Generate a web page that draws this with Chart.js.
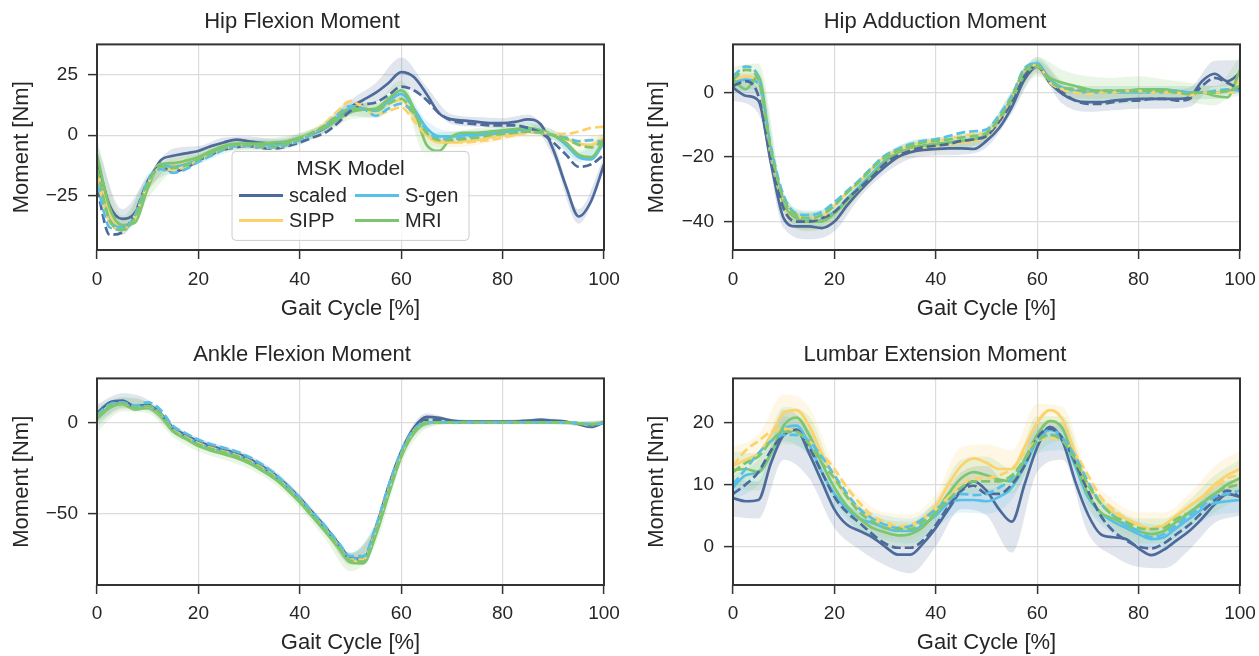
<!DOCTYPE html>
<html>
<head>
<meta charset="utf-8">
<script src="https://cdn.jsdelivr.net/npm/chart.js@4.4.1/dist/chart.umd.min.js"></script>
<style>
  body { margin: 0; background: #fff; width: 1259px; height: 656px; position: relative; overflow: hidden; }
  .panel { position: absolute; }
</style>
</head>
<body>
<div class="panel" style="left:0;top:0;width:620px;height:328px"><canvas id="hipFlex"></canvas></div>
<div class="panel" style="left:630px;top:0;width:629px;height:328px"><canvas id="hipAdd"></canvas></div>
<div class="panel" style="left:0;top:328px;width:620px;height:328px"><canvas id="ankle"></canvas></div>
<div class="panel" style="left:630px;top:328px;width:629px;height:328px"><canvas id="lumbar"></canvas></div>
<script>
// gait cycle samples (%)
const gait = [0,2.5,5,7.5,10,12.5,15,17.5,20,22.5,25,27.5,30,32.5,35,37.5,40,42.5,45,47.5,50,
  52.5,55,57.5,60,62.5,65,67.5,70,72.5,75,77.5,80,82.5,85,87.5,90,92.5,95,97.5,100];
// x positions of the spread (sd) values
const bandX = [0,5,10,15,20,25,30,35,40,45,50,55,60,65,70,75,80,85,90,95,100];
const models = ['scaled', 'SIPP', 'S-gen', 'MRI'];

// Hip flexion moment [Nm]
const hipFlexScaled = [-10,-29,-34.5,-32,-20,-10.5,-8.5,-7.5,-6.5,-4.5,-3,-1.8,-2.5,-3.2,-3.5,-2.8,-1.5,0.5,3,7,11.5,14.5,17.5,21.5,26,24,17,9,6.5,6,5.5,5,5,5.5,6.5,4.5,-6,-21,-33.5,-27,-12];
const hipFlexScaledDash = [-22,-41,-40,-32,-19,-13,-15,-13.5,-10.5,-8,-6,-5,-4.5,-5.3,-5.5,-4.5,-3,-1,1,5,10,12.5,13.5,16.5,20,18.5,14.5,9,6,5,4.5,4,4,4,3,1,-3,-8,-13,-12,-8];
const hipFlexSipp = [-15,-33,-38,-34,-20,-12,-12,-11.5,-9.5,-7,-5,-4,-4,-4.5,-4.5,-3.5,-1.5,1,4,8,11.5,11,10,13,14.5,8,0,-3,-3,-2.5,-2,-1,0,0.5,1.5,1.5,0,-1.5,-3.5,-4,-1];
const hipFlexSippDash = [-18,-36,-39,-33,-20,-13.5,-14.5,-13,-10.5,-8,-6,-4.5,-4.5,-5,-5,-4,-2,1,5,10,14,11.5,8.5,10,11.5,6,0,-2.5,-3,-3,-2.5,-2,-1,0,1,1,0.5,0.5,1.5,3,3.5];
const hipFlexSgen = [-18,-35,-38,-33,-19,-12.5,-13,-12,-10,-7.5,-5.5,-4,-4,-4,-4,-3.5,-2,0.5,3.5,7.5,11,11,10,14,17,11,3,-0.5,-0.5,0,0,0.5,1,2,2.5,2,0,-4,-9,-10,-3];
const hipFlexSgenDash = [-20,-38,-39,-33,-19,-14,-15.5,-14,-11,-8.5,-6,-4.5,-4.5,-5,-5,-4,-2,0.5,4,8.5,12,11,8,11,13,9,2,-1.5,-1.5,-1,0,0.5,1,1.5,1.5,1,0,-1,-2.5,-2,-3];
const hipFlexMri = [-8,-30,-37,-36,-22,-12,-11.5,-10.5,-9,-6.5,-4.5,-3.5,-3.5,-3.5,-3,-2.5,-1,1,3,6.5,9.5,10.5,11,15,18.5,11,-4,-6.5,-0.5,1,1,1.5,2,2.5,3,2,0,-3,-8,-9,-2];
const hipFlexMriDash = [-14,-35,-39,-34,-20,-13,-13.5,-12.5,-10,-7.5,-5.5,-4,-4,-4.5,-4.5,-3.5,-1.5,1,4,8,11,11,10,13,15,9,1,-2,-2,-1.5,-1,0,0.5,1,1.5,1,0,-1.5,-4,-5,-2];
const hipFlexScaledSd = [6,4,3,3,2,2,2,2,2,2,3,4,6,3,2,2,2,2,3,3,3];
const hipFlexSippSd = [5,3,3,2,2,2,2,2,2,2,3,3,3,3,2,2,2,2,2,2,2];
const hipFlexSgenSd = [5,3,3,2,2,2,2,2,2,2,3,3,3,3,2,2,2,2,2,2,2];
const hipFlexMriSd = [6,4,4,3,2,2,2,2,2,2,3,3,4,5,2,2,2,2,2,2,3];

// Hip adduction moment [Nm]
const hipAddScaled = [1.5,-1,-2.5,-22,-39,-41.5,-41.5,-42,-40,-35,-30.5,-26.5,-23,-20,-18.5,-17.8,-17.5,-17.3,-17.3,-17.5,-15,-11,-4.5,4,8,3,-0.5,-2.5,-3,-3,-2.5,-2.2,-2,-2,-2,-2,-1.5,3.5,5.8,3.5,6];
const hipAddScaledDash = [2,3.5,-1,-21,-36,-40,-40,-39,-37,-33,-29.5,-26,-22,-19.5,-18,-17,-16.5,-16,-15,-14.5,-13.5,-9,-3,5,8.5,3,0,-2.5,-3.5,-3.5,-3,-2.5,-2.5,-2,-2,-2.5,-2,2,4.5,3,1];
const hipAddSipp = [3,5,4,-20,-35,-39,-40,-40,-37.5,-33.5,-29.5,-25.5,-21.5,-19,-17.5,-17,-16.5,-16,-15.5,-15,-13.5,-9,-2,6,8.5,4,1.5,0.5,0,0,0,0,0,0,0,0,0,0,0,0.5,4];
const hipAddSippDash = [5,8,4,-18,-33,-38,-39,-38.5,-35,-31,-27.5,-23.5,-20,-18,-16.5,-15.5,-15,-14.5,-13.5,-13,-12.5,-8,-1.5,7,8.5,3,1,0,-0.5,0,0,0.5,0.5,0,0,0,-1,0,0,0,0];
const hipAddSgen = [3,4,3,-19,-34,-38.5,-39.5,-39,-37,-33,-29,-25,-21,-18.5,-17,-16.5,-16,-15.5,-15,-14.5,-13,-8.5,-1.5,7,9,4,1.5,0.5,0,0,0,0,0,0,0,0,0,0,0,0.5,1];
const hipAddSgenDash = [5,8,5,-17,-32,-37.5,-38,-37,-34,-30.5,-27,-23,-19.5,-17.5,-16,-15,-14.5,-13.5,-12.5,-12,-11.5,-7,-1,7.5,9,3.5,1.5,1,0.5,0.5,0.5,0.5,0.5,0.5,0.5,0.5,0,0,0.5,1,0.5];
const hipAddMri = [4,1,5,-18,-34,-39,-40,-40,-37.5,-33.5,-29.5,-25.5,-21.5,-18.5,-17,-16.5,-16,-15.5,-15,-14.5,-13,-8.5,-2.5,5.5,8,4.5,3,2,1,0.5,0.5,0.5,1,1,1,0.5,0,0,-1,-1.5,7];
const hipAddMriDash = [4,7,4,-18,-33,-38,-39,-38,-35,-31,-27.5,-23.5,-20,-18,-16.5,-15.5,-15,-14.5,-14,-13.5,-12.5,-8,-1.5,7,8.5,3.5,1.5,1,0.5,0.5,0.5,0.5,0.5,0.5,0.5,0,-0.5,0,0,0.5,2];
const hipAddScaledSd = [4,4,3,4,3,2,2,2,2,2,2,2,2,3,3,3,3,3,3,4,4];
const hipAddSippSd = [3,3,2,3,2,2,2,2,2,2,2,2,2,2,2,2,2,2,2,2,2];
const hipAddSgenSd = [3,3,2,3,2,2,2,2,2,2,2,2,2,2,2,2,2,2,2,2,2];
const hipAddMriSd = [4,4,3,3,3,2,2,2,2,2,2,3,3,4,4,4,4,3,3,3,4];

// Ankle flexion moment [Nm]
const ankleScaled = [5,11,12,9,9.5,5,-3,-7,-10.5,-13,-15,-17,-20,-24,-28.5,-34.5,-41.5,-49.5,-57.5,-66,-74.5,-75,-58,-35,-16,-3,3,2.5,1,0.5,0.5,0.5,0.5,0.5,1,1.5,1,0.5,-1,-2.5,0];
const ankleScaledDash = [4,10.5,11.5,8.5,9.5,5,-3.5,-7.5,-11,-13.5,-15.5,-17.5,-20.5,-24.5,-29,-35,-42,-50,-58,-66.5,-75,-75.5,-59,-36,-17,-4,1.5,1.5,0.5,0,0,0,0,0,0.5,1,0.5,0,-0.5,-1.5,0];
const ankleSipp = [3,9,10,7.5,8.5,4,-4.5,-8.5,-12,-14.5,-16.5,-18.5,-21.5,-25.5,-30,-36,-43,-51,-59,-67.5,-76,-76,-60,-38,-18,-5,-0.5,0,0,0,0,0,0,0,0,0,0,0,-0.5,-1.5,0.5];
const ankleSippDash = [3.5,9.5,10.5,8,9,4.5,-4,-8,-11.5,-14,-16,-18,-21,-25,-29.5,-35.5,-42.5,-50.5,-58.5,-67,-75.5,-75.5,-59,-37,-17.5,-4.5,0,0,0,0,0,0,0,0,0,0,0,0,-0.5,-1,0.5];
const ankleSgen = [2,9,10.5,8,9,4.5,-4,-8,-11.5,-14,-16,-18,-21,-25,-29.5,-35.5,-42.5,-50.5,-58.5,-67,-75,-75,-59,-37,-17,-4.5,-0.5,0,0,0,0,0,0,0,0,0,0,0,-0.5,-1.5,0];
const ankleSgenDash = [4,10,11,9,11,7,-2,-6,-9.5,-12,-14,-16,-19,-23,-28,-34.5,-41.5,-49.5,-57,-65.5,-73.5,-73.5,-57,-35,-16,-4,0,0,0,0,0,0,0,0,0,0,0,0,-0.5,-1,0];
const ankleMri = [2,8,10,7,8,3.5,-5,-9,-13,-15.5,-17.5,-19.5,-22.5,-26.5,-31,-37,-44,-52,-60,-68.5,-77,-77.5,-62,-40,-19,-6,-0.5,0,0,0,0,0,0,0,0,0,0,0,-0.5,-1.5,0];
const ankleMriDash = [3,9,10.5,8,9,4.5,-4.5,-8.5,-12,-14.5,-16.5,-18.5,-21.5,-25.5,-30,-36,-43,-51,-59,-67.5,-76,-76.5,-60.5,-38.5,-18,-5,0,0,0,0,0,0,0,0,0,0,0,0,-0.5,-1,0];
const ankleScaledSd = [5,4,3,2,2,2,2,2,2,2,3,3,2,2,1,1,1,1,1,1,1];
const ankleSippSd = [4,3,2,2,2,2,2,2,2,2,3,3,2,2,1,1,1,1,1,1,1];
const ankleSgenSd = [4,3,2,2,2,2,2,2,2,2,3,3,2,2,1,1,1,1,1,1,1];
const ankleMriSd = [7,4,3,3,3,3,3,3,3,4,5,5,4,3,1,1,1,1,1,1,1];

// Lumbar extension moment [Nm]
const lumbarScaled = [7.8,7.3,7.5,13.5,18,18.8,15,10.5,6,3.5,2.5,1.5,0,-1.3,-1.3,0.5,3,6,9,10.5,9,6,4,10,16,19.3,17,10.5,5.2,2,1.5,1.2,-0.3,-1.4,-0.5,1,2.5,4.5,6.8,8.5,8];
const lumbarScaledDash = [8.5,10,12,15.5,18,18.8,16,12,8,5.5,3.8,2,0.5,-0.2,-0.2,1,3.5,6.5,9,9.8,8.5,8.5,10,13,17.5,19,17.5,13.5,9,5,2.5,1,0,-0.3,0.5,2,3.5,5.5,7.5,9,8];
const lumbarSipp = [13,14,15,18,21.5,22,19.5,15,11,8,6,4.5,3.5,3,3.2,4.5,6.5,10,13,14.2,13.5,12.5,12.5,16,20,22,20.5,15,10,7,5.5,4.5,3.5,2.8,3.5,5,6.5,8,10,11.5,12.5];
const lumbarSippDash = [13,15.5,17,18.5,19,18.5,17,15,12.5,9.5,7,5,4,3.3,3.5,4.5,6,8,10,11,11,11.5,12.5,15,17,17.5,17,15,11.5,8,6,4.5,3.3,3,3.5,5,6.5,8,9.5,11,11.5];
const lumbarSgen = [9.5,11.5,12,15,19,19.5,16.5,12,8.5,6,4.5,3.8,3,2.5,2.5,3.5,5,7,7.5,7.5,7.3,8,9.5,13,17,18.8,17.5,13,8,5.5,4,3,2,1.2,1.5,3,4.5,6,7,7.3,7.5];
const lumbarSgenDash = [10,12.5,15,17,18,18,17,14.5,11.5,8.5,6,4.5,3.5,3,3.3,4.5,6,7.5,8.5,8.3,8.5,9.5,11,14,17,18,17.5,14.5,10.5,7,5,3.5,2.5,1.5,2,3.5,5,6.5,8,8.5,9];
const lumbarMri = [12.3,12.5,12,15,19.5,20.8,18,13.5,9.5,6.5,4.5,3,2.3,1.8,2,3.2,5.5,8.5,11,12,11.5,10.8,10.5,14,18,20.2,19,13.5,8.5,5.5,4.5,3.5,2.5,2,2.5,4,5.5,7,8.5,10,11];
const lumbarMriDash = [12,13.5,14.5,17,18.5,18.5,16.5,13.5,11,8,5.5,4,3,2.8,2.8,4,5.5,7.5,9.5,10.5,10.5,10.5,11.5,14,17,18,17,14,10,7,5,4,3,2.8,3,4.5,5.5,7,8.5,9.5,10];
const lumbarScaledSd = [3,3,4,4,3,3,3,3,3,3,4,5,4,3,3,3,3,3,3,3,3];
const lumbarSippSd = [3,3,3,3,2,2,2,2,2,3,3,3,3,2,2,2,2,2,2,3,3];
const lumbarSgenSd = [2,2,2,2,2,2,2,2,2,2,2,2,2,2,2,2,2,2,2,2,2];
const lumbarMriSd = [3,3,3,3,2,2,2,2,2,3,3,2,3,2,2,2,2,2,2,3,3];

const colors = ['#4d6b9a', '#fbd26b', '#57c0ea', '#7cc76d'];
const FONT = "'Liberation Sans', Arial, Helvetica, sans-serif";
Chart.defaults.font.family = FONT;
Chart.defaults.color = '#262626';

function rgba(hex, a) {
  const n = parseInt(hex.slice(1), 16);
  return `rgba(${n >> 16},${(n >> 8) & 255},${n & 255},${a})`;
}

const framePlugin = {
  id: 'frame',
  afterDatasetsDraw(chart) {
    const { ctx, chartArea: a } = chart;
    ctx.save();
    ctx.strokeStyle = '#333333';
    ctx.lineWidth = 2;
    ctx.strokeRect(a.left, a.top, a.right - a.left, a.bottom - a.top);
    ctx.restore();
  }
};

const legendPlugin = {
  id: 'mskLegend',
  afterDraw(chart) {
    const { ctx, chartArea: a } = chart;
    const x = a.left + 135, y = a.top + 107, w = 237, h = 89;
    ctx.save();
    ctx.beginPath();
    ctx.roundRect(x, y, w, h, 4);
    ctx.fillStyle = 'rgba(255,255,255,0.8)';
    ctx.fill();
    ctx.strokeStyle = '#cccccc';
    ctx.lineWidth = 1;
    ctx.stroke();
    ctx.fillStyle = '#262626';
    ctx.textBaseline = 'middle';
    ctx.textAlign = 'center';
    ctx.font = '21px ' + FONT;
    ctx.fillText('MSK Model', x + w / 2, y + 18);
    ctx.textAlign = 'left';
    ctx.font = '20px ' + FONT;
    models.forEach((m, i) => {
      const col = Math.floor(i / 2), row = i % 2;
      const hx = x + 7 + col * 116, hy = y + 44 + row * 25;
      ctx.strokeStyle = colors[i];
      ctx.lineWidth = 3;
      ctx.beginPath();
      ctx.moveTo(hx, hy);
      ctx.lineTo(hx + 44, hy);
      ctx.stroke();
      ctx.fillText(m, hx + 50, hy + 1);
    });
    ctx.restore();
  }
};

function lineSet(ys, color, dashed, order) {
  return {
    data: gait.map((x, i) => ({ x, y: ys[i] })),
    borderColor: color,
    borderWidth: 2.7,
    borderDash: dashed ? [9, 4] : [],
    pointRadius: 0,
    fill: false,
    cubicInterpolationMode: 'monotone',
    order
  };
}

function bandSets(ys, sd, color, order) {
  const mid = bandX.map(x => ys[gait.indexOf(x)]);
  const common = { borderWidth: 0, pointRadius: 0, cubicInterpolationMode: 'monotone', order };
  return [
    { ...common, data: bandX.map((x, i) => ({ x, y: mid[i] + sd[i] })), fill: '+1', backgroundColor: rgba(color, 0.17) },
    { ...common, data: bandX.map((x, i) => ({ x, y: mid[i] - sd[i] })), fill: false }
  ];
}

function makeChart(id, cfg) {
  const datasets = [];
  cfg.series.forEach((s, m) => datasets.push(...bandSets(s.solid, s.sd, colors[m], 40 - m)));
  cfg.series.forEach((s, m) => datasets.push(lineSet(s.solid, colors[m], false, 20 - m)));
  cfg.series.forEach((s, m) => datasets.push(lineSet(s.dash, colors[m], true, 10 - m)));
  const grid = { color: '#dcdcdc', lineWidth: 1.2, tickColor: '#333333', tickWidth: 1.5, tickLength: 9 };
  return new Chart(document.getElementById(id), {
    type: 'line',
    data: { datasets },
    plugins: cfg.legend ? [framePlugin, legendPlugin] : [framePlugin],
    options: {
      responsive: true,
      maintainAspectRatio: false,
      animation: false,
      events: [],
      layout: { padding: { left: 0, right: cfg.rightPad, top: 0, bottom: 0 } },
      plugins: {
        legend: { display: false },
        tooltip: { enabled: false },
        title: {
          display: true, text: cfg.title, color: '#262626',
          font: { size: 22, weight: 'normal' },
          padding: { top: cfg.titleTop, bottom: cfg.titleBottom }
        }
      },
      scales: {
        x: {
          type: 'linear', min: 0, max: 100,
          ticks: { stepSize: 20, font: { size: 19 }, color: '#262626', padding: cfg.xTickPad, maxRotation: 0 },
          grid, border: { display: false },
          title: { display: true, text: 'Gait Cycle [%]', font: { size: 22 }, color: '#262626', padding: { top: 0, bottom: cfg.xTitleBottom } },
          afterFit(s) { s.height = cfg.xHeight; s.paddingLeft = 0; s.paddingRight = 0; }
        },
        y: {
          type: 'linear', min: cfg.yMin, max: cfg.yMax,
          ticks: {
            stepSize: cfg.yStep, includeBounds: false, font: { size: 19 }, color: '#262626', padding: 10,
            callback: v => String(v).replace('-', '\u2212')
          },
          grid, border: { display: false },
          title: { display: true, text: 'Moment [Nm]', font: { size: 22 }, color: '#262626', padding: { top: cfg.yTitlePad, bottom: 0 } },
          afterFit(s) { s.width = cfg.yWidth; s.paddingTop = 0; s.paddingBottom = 0; }
        }
      }
    }
  });
}

const topRow = { titleTop: 9, titleBottom: 9, xHeight: 78, xTitleBottom: 6, xTickPad: 9 };
const bottomRow = { titleTop: 14, titleBottom: 10, xHeight: 71, xTitleBottom: 0, xTickPad: 8 };
const leftCol = { yWidth: 97, rightPad: 16, yTitlePad: 9 };
const rightCol = { yWidth: 103, rightPad: 19, yTitlePad: 14 };

makeChart('hipFlex', {
  ...topRow, ...leftCol, legend: true,
  title: 'Hip Flexion Moment', yMin: -47.3, yMax: 37.4, yStep: 25,
  series: [
    { solid: hipFlexScaled, dash: hipFlexScaledDash, sd: hipFlexScaledSd },
    { solid: hipFlexSipp, dash: hipFlexSippDash, sd: hipFlexSippSd },
    { solid: hipFlexSgen, dash: hipFlexSgenDash, sd: hipFlexSgenSd },
    { solid: hipFlexMri, dash: hipFlexMriDash, sd: hipFlexMriSd }
  ]
});

makeChart('hipAdd', {
  ...topRow, ...rightCol,
  title: 'Hip Adduction Moment', yMin: -48.8, yMax: 14.9, yStep: 20,
  series: [
    { solid: hipAddScaled, dash: hipAddScaledDash, sd: hipAddScaledSd },
    { solid: hipAddSipp, dash: hipAddSippDash, sd: hipAddSippSd },
    { solid: hipAddSgen, dash: hipAddSgenDash, sd: hipAddSgenSd },
    { solid: hipAddMri, dash: hipAddMriDash, sd: hipAddMriSd }
  ]
});

makeChart('ankle', {
  ...bottomRow, ...leftCol,
  title: 'Ankle Flexion Moment', yMin: -89.4, yMax: 24.2, yStep: 50,
  series: [
    { solid: ankleScaled, dash: ankleScaledDash, sd: ankleScaledSd },
    { solid: ankleSipp, dash: ankleSippDash, sd: ankleSippSd },
    { solid: ankleSgen, dash: ankleSgenDash, sd: ankleSgenSd },
    { solid: ankleMri, dash: ankleMriDash, sd: ankleMriSd }
  ]
});

makeChart('lumbar', {
  ...bottomRow, ...rightCol,
  title: 'Lumbar Extension Moment', yMin: -6.2, yMax: 27.1, yStep: 10,
  series: [
    { solid: lumbarScaled, dash: lumbarScaledDash, sd: lumbarScaledSd },
    { solid: lumbarSipp, dash: lumbarSippDash, sd: lumbarSippSd },
    { solid: lumbarSgen, dash: lumbarSgenDash, sd: lumbarSgenSd },
    { solid: lumbarMri, dash: lumbarMriDash, sd: lumbarMriSd }
  ]
});
</script>
</body>
</html>
